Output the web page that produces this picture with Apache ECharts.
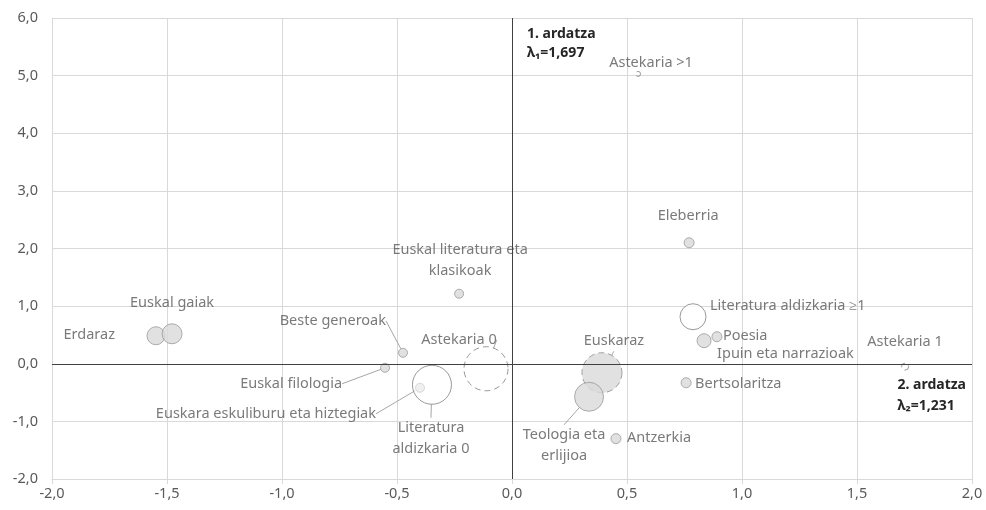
<!DOCTYPE html>
<html>
<head>
<meta charset="utf-8">
<script src="https://cdn.jsdelivr.net/npm/echarts@6/dist/echarts.min.js"></script>
<style>html,body{margin:0;padding:0;background:#fff}#c{width:986px;height:510px}</style>
</head>
<body>
<div id="c"></div>
<script>
// ---- data ----
const names = ["Erdaraz","Euskal gaiak","Beste generoak","Euskal filologia","Literatura aldizkaria 0","Euskara eskuliburu eta hiztegiak","Astekaria 0","Euskal literatura eta klasikoak","Euskaraz","Teologia eta erlijioa","Antzerkia","Eleberria","Literatura aldizkaria ≥1","Poesia","Ipuin eta narrazioak","Bertsolaritza","Astekaria 1","Astekaria >1"];
const labelTexts = ["Erdaraz","Euskal gaiak","Beste generoak","Euskal filologia","Literatura\naldizkaria 0","Euskara eskuliburu eta hiztegiak","Astekaria 0","Euskal literatura eta\nklasikoak","Euskaraz","Teologia eta\nerlijioa","Antzerkia","Eleberria","Literatura aldizkaria ≥1","Poesia","Ipuin eta narrazioak","Bertsolaritza","Astekaria 1","Astekaria >1"];
const dim1 = [-1.548,-1.478,-0.474,-0.552,-0.348,-0.400,-0.113,-0.230,0.391,0.335,0.452,0.770,0.787,0.891,0.835,0.757,1.709,0.548];
const dim2 = [0.486,0.520,0.190,-0.070,-0.365,-0.417,-0.087,1.215,-0.156,-0.573,-1.300,2.100,0.816,0.469,0.400,-0.330,-0.050,5.030];
const weight = [3.24,4.0,0.81,0.81,15.2,0.81,19.4,0.81,16.0,8.41,1.0,1.0,6.76,1.0,1.96,1.0,0.49,0.25];
const xTicks = {min:-2, max:2, step:0.5};
const yTicks = {min:-2, max:6, step:1};
const axis1Label = "1. ardatza\nλ₁=1,697";
const axis2Label = "2. ardatza\nλ₂=1,231";

// ---- styles ----
const S = {
  gray:   {color:'#d9d9d9', borderColor:'#9a9a9a', borderWidth:1},
  light:  {color:'#ececec', borderColor:'#d0d0d0', borderWidth:1},
  white:  {color:'#ffffff', borderColor:'#7f7f7f', borderWidth:1},
  dashG:  {color:'#d9d9d9', borderColor:'#8c8c8c', borderWidth:1, borderType:[6,4]},
  dashN:  {color:'rgba(0,0,0,0)', borderColor:'#7f7f7f', borderWidth:1, borderType:[6,4]}
};
const styleOf = {"Literatura aldizkaria 0":'white',"Literatura aldizkaria ≥1":'white',"Euskara eskuliburu eta hiztegiak":'light',"Euskaraz":'dashG',"Astekaria 0":'dashN',"Astekaria 1":'dashN',"Astekaria >1":'dashN'};
// label offsets relative to bubble centre: [dx, dy, align]
const labelPos = {
  "Erdaraz":[-41,-1,'right'], "Euskal gaiak":[0,-31,'center'], "Beste generoak":[-17,-32,'right'],
  "Euskal filologia":[-43,16,'right'], "Euskara eskuliburu eta hiztegiak":[-44,26,'right'],
  "Literatura aldizkaria 0":[-1,54,'center'], "Astekaria 0":[-27,-29,'center'],
  "Euskal literatura eta klasikoak":[1,-33,'center'], "Euskaraz":[12,-32,'center'],
  "Teologia eta erlijioa":[-25,49,'center'], "Antzerkia":[11,-1,'left'], "Eleberria":[-1,-27,'center'],
  "Literatura aldizkaria ≥1":[17,-11,'left'], "Poesia":[6,-1,'left'], "Ipuin eta narrazioak":[13,13,'left'],
  "Bertsolaritza":[9,1,'left'], "Astekaria 1":[0,-25,'center'], "Astekaria >1":[13,-11,'center']
};
const withLine = {"Beste generoak":1,"Euskal filologia":1,"Euskara eskuliburu eta hiztegiak":1,"Literatura aldizkaria 0":1,"Astekaria 0":1,"Euskaraz":1,"Teologia eta erlijioa":1};

const FONT = 'Noto Sans';
const FS = 14.5;
const fmt = v => v.toFixed(1).replace('.', ',');

const data = names.map((n,i) => ({
  name: n,
  value: [dim1[i], dim2[i], weight[i]],
  itemStyle: S[styleOf[n] || 'gray'],
  label: {formatter: labelTexts[i]},
  labelLine: {show: !!withLine[n]}
}));

const chart = echarts.init(document.getElementById('c'), null, {renderer:'canvas'});
chart.setOption({
  animation:false,
  backgroundColor:'#ffffff',
  grid:{left:52, right:14, top:18, bottom:31},
  xAxis:{type:'value', min:xTicks.min, max:xTicks.max, interval:xTicks.step,
    axisLine:{onZero:false, lineStyle:{color:'#d9d9d9'}},
    axisTick:{show:true, length:5, lineStyle:{color:'#d9d9d9'}},
    splitLine:{lineStyle:{color:'#d9d9d9'}},
    axisLabel:{formatter:fmt, color:'#595959', fontFamily:FONT, fontSize:FS, margin:7}},
  yAxis:{type:'value', min:yTicks.min, max:yTicks.max, interval:yTicks.step,
    axisLine:{show:true, onZero:false, lineStyle:{color:'#d9d9d9'}},
    axisTick:{show:false},
    splitLine:{lineStyle:{color:'#d9d9d9'}},
    axisLabel:{formatter:fmt, color:'#595959', fontFamily:FONT, fontSize:FS, margin:14}},
  series:[{
    type:'scatter',
    data:data,
    symbol:'circle',
    symbolSize: v => Math.sqrt(v[2]) * 10,
    label:{show:true, position:'inside', color:'#595959', fontFamily:FONT, fontSize:FS, lineHeight:21},
    labelLine:{show:false, lineStyle:{color:'#a6a6a6', width:1}},
    labelLayout: p => { const o = labelPos[names[p.dataIndex]]; return {dx:o[0], dy:o[1], align:o[2], verticalAlign:'middle'}; },
    emphasis:{disabled:true},
    markLine:{silent:true, symbol:'none', label:{show:false},
      lineStyle:{color:'#404040', width:1, type:'solid'},
      data:[{xAxis:0},{yAxis:0}]},
    z:3
  }],
  graphic:[
    {type:'text', left:527, top:25, style:{text:axis1Label, font:'bold 14px "Noto Sans"', fill:'#262626', lineHeight:19}},
    {type:'text', right:20, top:375, style:{text:axis2Label, font:'bold 14px "Noto Sans"', fill:'#262626', lineHeight:21, align:'right'}}
  ]
});
</script>
</body>
</html>
